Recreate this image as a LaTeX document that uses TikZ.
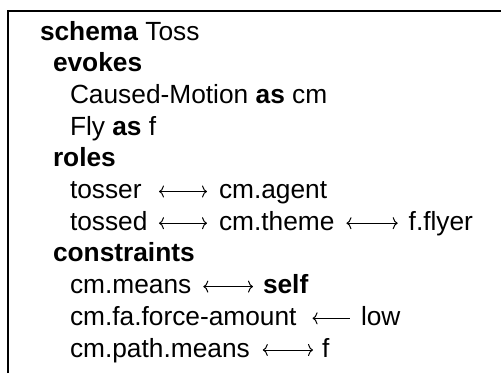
\documentclass[tikz,border=0pt]{standalone}
\usepackage{fontspec}
\setmainfont{Liberation Sans}
\usetikzlibrary{arrows.meta}
\begin{document}
\begin{tikzpicture}[x=1pt,y=-1pt,
  txt/.style={anchor=base west, inner sep=0pt, outer sep=0pt, font=\fontsize{26.3}{31.6}\selectfont},
  cmarr/.tip={Computer Modern Rightarrow[length=5pt,width=12pt]},
  lr/.style={cmarr-cmarr, line width=1pt},
  la/.style={cmarr-, line width=1pt},
  frame/.style={line width=2pt}]
\useasboundingbox (0,0) rectangle (501,373);
\coordinate (fbl) at (7.5,373);
\coordinate (ftl) at (7.5,11);
\coordinate (ftr) at (501,11);
\draw[frame] (fbl) -- (ftl) -- (ftr);
\node[txt] (title) at (40,40) {\textbf{schema} Toss};
\node[txt] (evokes) at (53,71.7) {\textbf{evokes}};
\node[txt] (cmline) at (70,103.4) {Caused-Motion \textbf{as} cm};
\node[txt] (flyline) at (70,135.1) {Fly \textbf{as} f};
\node[txt] (roles) at (53,166.8) {\textbf{roles}};
\node[txt] (tosser) at (70,198.5) {tosser};
\node[txt] (agent) at (219,198.5) {cm.agent};
\node[txt] (tossed) at (70,230.2) {tossed};
\node[txt] (theme) at (219,230.2) {cm.theme};
\node[txt, anchor=base east] (flyer) at (473,230.2) {f.flyer};
\node[txt] (constraints) at (53,261.9) {\textbf{constraints}};
\node[txt] (means) at (70,293.6) {cm.means};
\node[txt] (self) at (263,293.6) {\textbf{self}};
\node[txt] (fa) at (70,325.3) {cm.fa.force-amount};
\node[txt] (low) at (361,325.3) {low};
\node[txt] (pmeans) at (70,357) {cm.path.means};
\node[txt] (fnode) at (322,357) {f};
\draw[lr] ([xshift=-60pt,yshift=7pt]agent.base west) -- ([xshift=-12pt,yshift=7pt]agent.base west);
\draw[lr, shorten <=11.5pt, shorten >=12pt] ([yshift=7pt]tossed.base east) -- ([yshift=7pt]theme.base west);
\draw[lr, shorten <=12pt, shorten >=11pt] ([yshift=7pt]theme.base east) -- ([yshift=7pt]flyer.base west);
\draw[lr, shorten <=12pt, shorten >=10pt] ([yshift=7pt]means.base east) -- ([yshift=7pt]self.base west);
\draw[la, shorten <=16pt, shorten >=11pt] ([yshift=7pt]fa.base east) -- ([yshift=7pt]low.base west);
\draw[lr, shorten <=13pt, shorten >=9pt] ([yshift=7pt]pmeans.base east) -- ([yshift=7pt]fnode.base west);
\end{tikzpicture}
\end{document}
